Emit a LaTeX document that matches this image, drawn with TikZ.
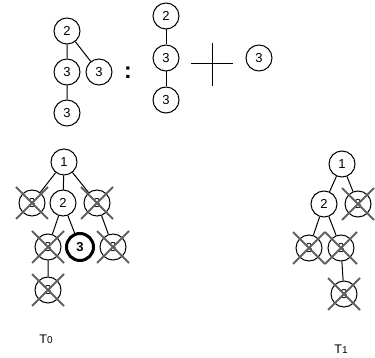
\documentclass[tikz,border=0pt]{standalone}
\usepackage{fontspec}
\setmainfont{Liberation Sans}
\begin{document}
\begin{tikzpicture}[x=1pt,y=-1pt,
  vtx/.style={circle,draw,line width=1pt,minimum size=26pt,inner sep=0pt,font=\fontsize{13}{13}\selectfont},
  hit/.style={vtx,line width=3pt,minimum size=27pt,font=\fontsize{13}{13}\selectfont\bfseries},
  lnk/.style={line width=1pt},
  xline/.style={draw=black!62,line width=1.9pt}]
\useasboundingbox (0,0) rectangle (375,358);

% left term of the decomposition
\node[vtx] (a2) at (67,31) {2};
\node[vtx] (a3) at (67,72) {3};
\node[vtx] (a3r) at (99,72) {3};
\node[vtx] (a3b) at (67,113) {3};
\draw[lnk] (a2) -- (a3) (a2) -- (a3r) (a3) -- (a3b);

\node[font=\fontsize{23}{23}\selectfont\bfseries,inner sep=0pt] (col) at (128,73) {:};

% path part
\node[vtx] (b2) at (166,16) {2};
\node[vtx] (b3) at (166,58) {3};
\node[vtx] (b3b) at (166,100) {3};
\draw[lnk] (b2) -- (b3) (b3) -- (b3b);

% union sign
\coordinate (pl) at (191,64);
\coordinate (pr) at (233,64);
\coordinate (pt) at (212,43);
\coordinate (pb) at (212,86);
\draw[line width=1pt] (pl) -- (pr) (pt) -- (pb);

\node[vtx] (c3) at (259,58) {3};

% tree T0
\node[vtx] (t1) at (64,162) {1};
\node[vtx] (tx1) at (32,203) {3};
\node[vtx] (t2) at (63,203) {2};
\node[vtx] (tx2) at (97,203) {3};
\node[vtx] (tx3) at (48,247) {3};
\node[hit] (t3) at (80,247) {3};
\node[vtx] (tx4) at (113,247) {3};
\node[vtx] (tx5) at (48,290) {3};
\draw[lnk] (t1) -- (tx1) (t1) -- (t2) (t1) -- (tx2)
  (t2) -- (tx3) (t2) -- (t3) (tx2) -- (tx4) (tx3) -- (tx5);
\foreach \n in {tx1,tx2,tx3,tx4,tx5}{
  \draw[xline] ([shift={(-16,-16)}]\n.center) -- ([shift={(16,16)}]\n.center)
               ([shift={(16,-16)}]\n.center) -- ([shift={(-16,16)}]\n.center);}
\node (l0) at (46,339) {\fontsize{12.5}{13}\selectfont T\fontsize{10}{10}\selectfont 0};

% tree T1
\node[vtx] (s1) at (342,164) {1};
\node[vtx] (s2) at (324,204) {2};
\node[vtx] (sx1) at (358,204) {3};
\node[vtx] (sx2) at (309,248) {3};
\node[vtx] (sx3) at (341,248) {3};
\node[vtx] (sx4) at (344,294) {3};
\draw[lnk] (s1) -- (s2) (s1) -- (sx1) (s2) -- (sx2) (s2) -- (sx3) (sx3) -- (sx4);
\foreach \n in {sx1,sx2,sx3,sx4}{
  \draw[xline] ([shift={(-16,-16)}]\n.center) -- ([shift={(16,16)}]\n.center)
               ([shift={(16,-16)}]\n.center) -- ([shift={(-16,16)}]\n.center);}
\node (l1) at (341,349) {\fontsize{12.5}{13}\selectfont T\fontsize{10}{10}\selectfont 1};
\end{tikzpicture}
\end{document}
